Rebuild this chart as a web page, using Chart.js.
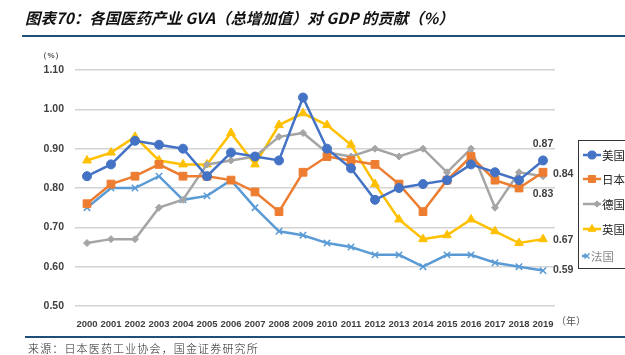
<!DOCTYPE html>
<html><head><meta charset="utf-8">
<script src="https://cdn.jsdelivr.net/npm/chart.js@4/dist/chart.umd.min.js"></script>
<style>
html,body{margin:0;padding:0;background:#fff;width:625px;height:355px;overflow:hidden;}
#wrap{position:relative;width:625px;height:355px;}
#c{position:absolute;left:0;top:0;}
#title{position:absolute;left:25px;top:7px;font-family:"Noto Sans CJK SC",sans-serif;font-weight:bold;font-style:italic;font-size:15.4px;line-height:20px;color:#111;white-space:nowrap;}
#topline{position:absolute;left:22px;top:35px;width:603px;height:2px;background:#1F4E79;}
#botline{position:absolute;left:25px;top:336px;width:600px;height:1.5px;background:#1F4E79;}
#source{position:absolute;left:28px;top:340px;font-family:"Noto Sans CJK SC",sans-serif;font-weight:300;font-size:11px;line-height:16px;letter-spacing:1.15px;color:#222;white-space:nowrap;}
</style></head>
<body><div id="wrap">
<canvas id="c" width="625" height="355"></canvas>
<div id="title">图表70：各国医药产业 GVA（总增加值）对 GDP 的贡献（%）</div>
<div id="topline"></div>
<div id="botline"></div>
<div id="source">来源：日本医药工业协会，国金证券研究所</div>
</div>
<script>
const years = ['2000','2001','2002','2003','2004','2005','2006','2007','2008','2009','2010','2011','2012','2013','2014','2015','2016','2017','2018','2019'];
const usa     = [0.83,0.86,0.92,0.91,0.90,0.83,0.89,0.88,0.87,1.03,0.90,0.85,0.77,0.80,0.81,0.82,0.86,0.84,0.82,0.87];
const japan   = [0.76,0.81,0.83,0.86,0.83,0.83,0.82,0.79,0.74,0.84,0.88,0.87,0.86,0.81,0.74,0.82,0.88,0.82,0.80,0.84];
const germany = [0.66,0.67,0.67,0.75,0.77,0.86,0.87,0.88,0.93,0.94,0.89,0.88,0.90,0.88,0.90,0.84,0.90,0.75,0.84,0.83];
const uk      = [0.87,0.89,0.93,0.87,0.86,0.86,0.94,0.86,0.96,0.99,0.96,0.91,0.81,0.72,0.67,0.68,0.72,0.69,0.66,0.67];
const france  = [0.75,0.80,0.80,0.83,0.77,0.78,0.82,0.75,0.69,0.68,0.66,0.65,0.63,0.63,0.60,0.63,0.63,0.61,0.60,0.59];
const seriesNames = ['美国','日本','德国','英国','法国'];
const yMin = 0.5, yMax = 1.1, yStep = 0.1;

const colors = ['#4472C4','#ED7D31','#A5A5A5','#FFC000','#5B9BD5'];
const styles = [
  {pointStyle:'circle', radius:4.5},
  {pointStyle:'rect', radius:5.5},
  {pointStyle:'rectRot', radius:3.5},
  {pointStyle:'triangle', radius:5},
  {pointStyle:'crossRot', radius:4.5}
];
const values = [usa, japan, germany, uk, france];

const datasets = values.map((v,i)=>({
  label: seriesNames[i],
  data: v,
  borderColor: colors[i],
  backgroundColor: colors[i],
  pointBackgroundColor: colors[i],
  pointBorderColor: colors[i],
  borderWidth: 2.5,
  pointStyle: styles[i].pointStyle,
  pointRadius: styles[i].radius,
  pointBorderWidth: i===4 ? 1.5 : 1,
  tension: 0,
  fill: false
}));

const TXT = '#404040';
const extras = {
  id:'extras',
  afterDraw(chart){
    const ctx = chart.ctx, xs = chart.scales.x, ys = chart.scales.y;
    const last = years.length - 1;
    const xL = xs.getPixelForValue(last);
    ctx.save();
    ctx.fillStyle = TXT;
    ctx.font = 'bold 10.5px "Liberation Sans", Arial, sans-serif';
    ctx.textBaseline = 'middle';
    ctx.textAlign = 'center';
    ctx.fillText(usa[last].toFixed(2), xL, ys.getPixelForValue(usa[last]) - 16);
    ctx.fillText(germany[last].toFixed(2), xL, ys.getPixelForValue(germany[last]) + 18);
    ctx.textAlign = 'left';
    ctx.fillText(japan[last].toFixed(2), xL + 10, ys.getPixelForValue(japan[last]) + 2);
    ctx.fillText(uk[last].toFixed(2), xL + 10, ys.getPixelForValue(uk[last]) + 1);
    ctx.fillText(france[last].toFixed(2), xL + 10, ys.getPixelForValue(france[last]));
    // unit labels
    ctx.font = 'bold 8px "Liberation Sans", Arial, sans-serif';
    ctx.textAlign = 'center';
    ctx.fillStyle = '#555';
    ctx.fillText('（%）', 51, 56);
    ctx.font = '10px "Noto Sans CJK SC", sans-serif';
    ctx.fillText('（年）', 571, 321);
    // legend
    ctx.strokeStyle = '#333';
    ctx.lineWidth = 1;
    ctx.strokeRect(578.5, 140.5, 80, 128);
    const ly = [155, 179, 204, 229, 256];
    ctx.font = '11.5px "Noto Sans CJK SC", sans-serif';
    ctx.textAlign = 'left';
    for (let i = 0; i < 5; i++) {
      const y = ly[i];
      ctx.strokeStyle = colors[i];
      ctx.fillStyle = colors[i];
      ctx.lineWidth = 2.5;
      let x0 = 583, x1 = 601, mx = 592, tx = 602;
      if (i === 2) { mx = 597; }
      if (i === 4) { x0 = 582; x1 = 586; mx = 587; tx = 591; }
      ctx.beginPath(); ctx.moveTo(x0, y); ctx.lineTo(x1, y); ctx.stroke();
      ctx.lineWidth = i === 4 ? 1.5 : 1;
      Chart.helpers.drawPoint(ctx, {pointStyle: styles[i].pointStyle, radius: i===4?3.5:styles[i].radius*0.9, rotation:0, borderWidth: ctx.lineWidth}, mx, y);
      ctx.fillStyle = i === 4 ? '#8a8a8a' : '#222';
      ctx.fillText(seriesNames[i], tx, y + 0.5);
    }
    ctx.restore();
  }
};

new Chart(document.getElementById('c'), {
  type: 'line',
  data: { labels: years, datasets },
  options: {
    responsive: false,
    animation: false,
    devicePixelRatio: 1,
    layout: { padding: { left: 0, top: 70, right: 70, bottom: 0 } },
    plugins: { legend: { display: false }, tooltip: { enabled: false } },
    scales: {
      x: {
        offset: true,
        grid: { display: false },
        border: { display: false },
        ticks: { color: TXT, font: { family: '"Liberation Sans", Arial, sans-serif', size: 9.5, weight: 'bold' }, padding: 5, maxRotation: 0, autoSkip: false },
        afterFit(s){ s.height = 49; }
      },
      y: {
        min: yMin, max: yMax,
        grid: { color: '#D4D4D4', lineWidth: 1.5, drawTicks: false },
        border: { display: false },
        ticks: { stepSize: yStep, color: TXT, padding: 11, font: { family: '"Liberation Sans", Arial, sans-serif', size: 10.5, weight: 'bold' }, callback: v => v.toFixed(2) },
        afterFit(s){ s.width = 75; }
      }
    }
  },
  plugins: [extras]
});
</script>
</body></html>
